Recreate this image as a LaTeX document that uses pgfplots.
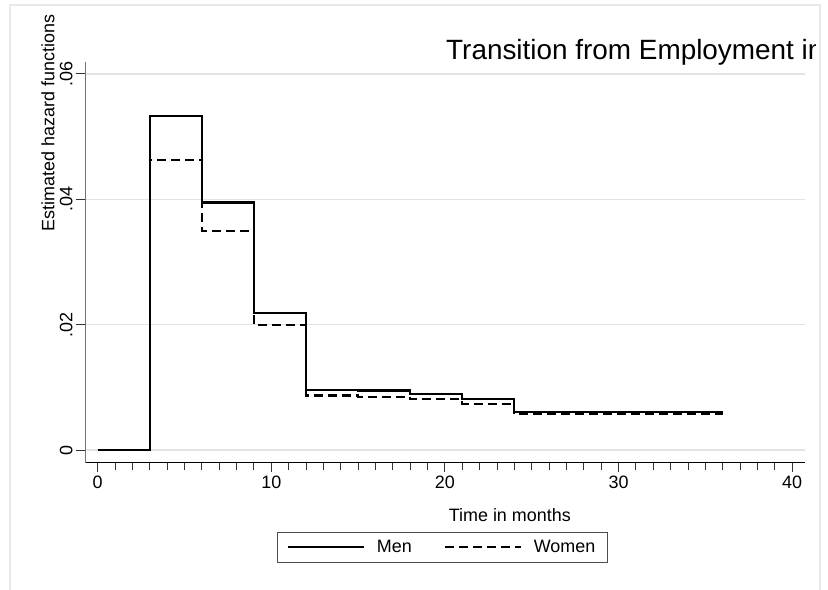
\documentclass[border=0pt]{standalone}
\usepackage{fontspec}
\setmainfont{Liberation Sans}
\usepackage{pgfplots}
\pgfplotsset{compat=1.18}
\begin{document}
\begin{tikzpicture}[x=1bp,y=1bp]
\useasboundingbox (0,0) rectangle (828,590);
\clip (0,0) rectangle (828,590);
\fill[white] (0,0) rectangle (828,590);
\draw[black!9, line width=1.5bp] (10,-5) rectangle (820,585);
\begin{axis}[
 at={(85bp,127bp)}, anchor=south west,
 scale only axis, width=720bp, height=401bp,
 xmin=-0.73, xmax=40.74, ymin=-0.00207, ymax=0.0619,
 scaled y ticks=false, scaled x ticks=false,
 axis x line*=bottom, axis y line*=left,
 axis line style={-},
 x axis line style={black, line width=1bp},
 y axis line style={black!55, line width=1bp},
 xtick={0,10,20,30,40}, xticklabels={0,10,20,30,40},
 minor x tick num=9,
 ytick={0,0.02,0.04,0.06}, yticklabels={0,.02,.04,.06},
 tick align=outside,
 major tick length=9bp, minor tick length=7bp,
 tick style={black!80, line width=0.9bp},
 ymajorgrids, grid style={black!11, line width=1.5bp},
 yticklabel style={rotate=90, anchor=south, font=\fontsize{18}{20}\selectfont},
 xticklabel style={font=\fontsize{18}{20}\selectfont},
 xlabel={Time in months}, ylabel={Estimated hazard functions},
 label style={font=\fontsize{18}{20}\selectfont},
 xlabel style={at={(axis description cs:0.59,-0.147)}, anchor=base},
 ylabel style={at={(axis description cs:-0.0514,0.848)}, anchor=center},
 legend columns=2,
 legend style={at={(axis description cs:0.496,-0.2107)}, anchor=center, draw=black!70, font=\fontsize{18}{20}\selectfont,
   /tikz/every odd column/.append style={column sep=10bp},
   /tikz/every even column/.append style={column sep=30bp},
   inner xsep=10bp, inner ysep=6bp},
 legend image code/.code={\draw[#1, line width=2bp] (0bp,0bp) -- (76bp,0bp);},
]
\addplot[const plot, black, line width=2.2bp] coordinates {
 (0,0) (3,0.0533) (6,0.0395) (9,0.0219) (12,0.0096) (15,0.0095) (18,0.0090) (21,0.0082) (24,0.0061) (36,0.0061)};
\addlegendentry{Men}
\addplot[const plot, black, line width=2.2bp, dash pattern=on 9bp off 5bp] coordinates {
 (0,0) (3,0.0463) (6,0.0349) (9,0.0199) (12,0.0087) (15,0.0085) (18,0.0081) (21,0.0074) (24,0.0057) (36,0.0057)};
\addlegendentry{Women}
\end{axis}
\begin{scope}
\clip (0,0) rectangle (815,590);
\node[anchor=base west, inner sep=0pt, font=\fontsize{28}{30}\selectfont] at (446,530.7) {Transition from Employment in};
\end{scope}
\end{tikzpicture}
\end{document}
